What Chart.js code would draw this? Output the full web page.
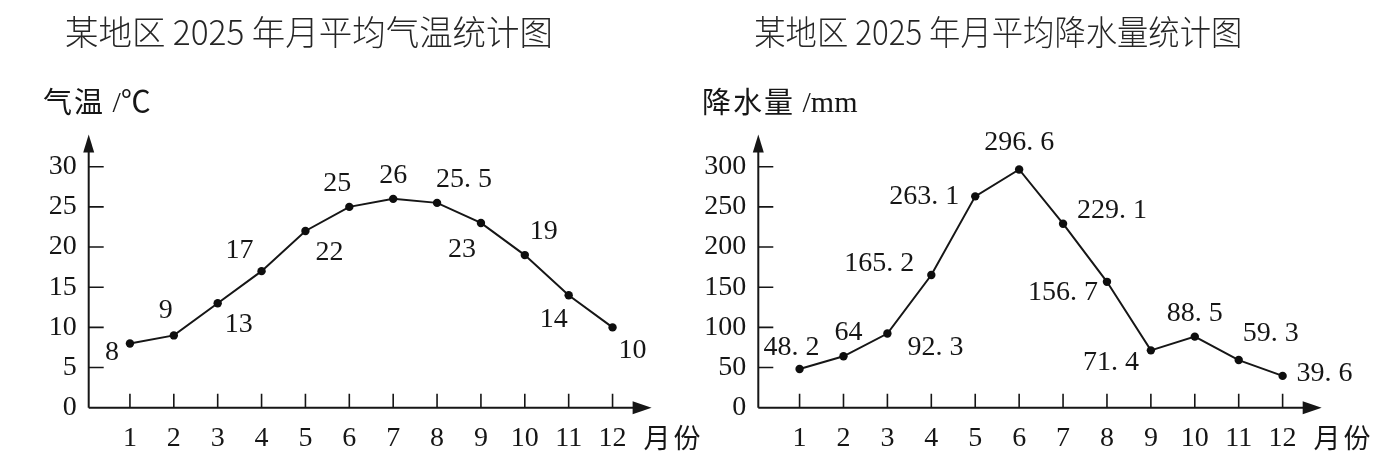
<!DOCTYPE html>
<html>
<head>
<meta charset="utf-8">
<script src="https://cdn.jsdelivr.net/npm/chart.js@4.4.1/dist/chart.umd.min.js"></script>
<style>
  html, body { margin: 0; padding: 0; background: #fff; }
  body { width: 1390px; height: 463px; position: relative; overflow: hidden; }
  canvas { position: absolute; top: 0; }
  #left { left: 0; }
  #right { left: 695px; }
</style>
</head>
<body>
<canvas id="left" width="720" height="463"></canvas>
<canvas id="right" width="695" height="463"></canvas>
<script>
// ---------------- data ----------------
const months = [1, 2, 3, 4, 5, 6, 7, 8, 9, 10, 11, 12];
const temperature = [8, 9, 13, 17, 22, 25, 26, 25.5, 23, 19, 14, 10];
const precipitation = [48.2, 64, 92.3, 165.2, 263.1, 296.6, 229.1, 156.7, 71.4, 88.5, 59.3, 39.6];
const temperatureTicks = [0, 5, 10, 15, 20, 25, 30];
const precipitationTicks = [0, 50, 100, 150, 200, 250, 300];

const tempTitle = '某地区 2025 年月平均气温统计图';
const rainTitle = '某地区 2025 年月平均降水量统计图';
const tempAxisName = ['气温', ' /℃'];
const rainAxisName = ['降水量', ' /mm'];
const monthAxisName = '月份';

// label placement relative to each point (style only)
const tempLabelOffsets = [[-18, 9], [-8, -25], [21, 21], [-22, -21], [24, 22], [-12, -23],
  [0, -23], [27, -23], [-19, 27], [19, -23], [-15, 24], [20, 23]];
const rainLabelOffsets = [[-8, -21], [5, -24], [48, 14], [-52, -11], [-51, 0], [0, -27],
  [49, -13], [-44, 11], [-40, 12], [0, -23], [32, -26], [42, -2]];

// ---------------- styling ----------------
const INK = '#161616';
const NUM_FONT = '"Liberation Serif", "Noto Sans CJK SC", serif';
const CJK_FONT = '"Noto Sans CJK SC", "Liberation Serif", sans-serif';

function fmt(v) { return String(v).replace('.', '. '); }

const axesPlugin = {
  id: 'axesDecor',
  afterDraw(chart, args, o) {
    const ctx = chart.ctx;
    const area = chart.chartArea;
    const xs = chart.scales.x, ys = chart.scales.y;
    const x0 = area.left, y0 = area.bottom;
    ctx.save();
    ctx.strokeStyle = INK;
    ctx.fillStyle = INK;
    ctx.lineWidth = 2;
    // axes
    ctx.beginPath();
    ctx.moveTo(x0, y0); ctx.lineTo(area.right - 10, y0);
    ctx.moveTo(x0, y0); ctx.lineTo(x0, area.top + 10);
    ctx.stroke();
    // arrows
    ctx.beginPath();
    ctx.moveTo(area.right, y0); ctx.lineTo(area.right - 19, y0 - 6.5); ctx.lineTo(area.right - 19, y0 + 6.5);
    ctx.closePath(); ctx.fill();
    ctx.beginPath();
    ctx.moveTo(x0, area.top); ctx.lineTo(x0 - 5.5, area.top + 18); ctx.lineTo(x0 + 5.5, area.top + 18);
    ctx.closePath(); ctx.fill();
    // tick marks (inward)
    ctx.lineWidth = 1.6;
    ctx.beginPath();
    o.yTicks.forEach(v => {
      if (v === 0) return;
      const py = ys.getPixelForValue(v);
      ctx.moveTo(x0, py); ctx.lineTo(x0 + 15, py);
    });
    months.forEach(m => {
      const px = xs.getPixelForValue(m);
      ctx.moveTo(px, y0); ctx.lineTo(px, y0 - 14);
    });
    ctx.stroke();
    // data labels
    const meta = chart.getDatasetMeta(0);
    ctx.font = '28px ' + NUM_FONT;
    ctx.textAlign = 'center';
    ctx.textBaseline = 'middle';
    o.values.forEach((v, i) => {
      const el = meta.data[i];
      const off = o.offsets[i];
      ctx.fillText(fmt(v), el.x + off[0], el.y + off[1]);
    });
    // month axis name
    ctx.textAlign = 'left';
    ctx.font = '27px ' + CJK_FONT;
    ctx.letterSpacing = '3px';
    ctx.fillText(monthAxisName, xs.getPixelForValue(12) + 31, 438);
    // y axis name
    ctx.letterSpacing = '2px';
    ctx.font = '29px ' + CJK_FONT;
    ctx.fillText(o.axisName[0], o.axisNameX, 102);
    const w = ctx.measureText(o.axisName[0]).width;
    ctx.letterSpacing = '0px';
    ctx.font = '30px ' + NUM_FONT;
    ctx.fillText(o.axisName[1], o.axisNameX + w, 104);
    // title
    ctx.textAlign = 'center';
    ctx.font = '300 34px ' + CJK_FONT;
    ctx.fillStyle = '#262626';
    ctx.fillText(o.title, o.titleX, 32, 488);
    ctx.restore();
  }
};

function makeChart(canvasId, cfg) {
  const tickFont = { family: NUM_FONT, size: 28 };
  return new Chart(document.getElementById(canvasId), {
    type: 'line',
    data: {
      datasets: [{
        data: months.map((m, i) => ({ x: m, y: cfg.values[i] })),
        borderColor: INK,
        borderWidth: 2,
        pointRadius: 4.2,
        pointBackgroundColor: '#0e0e0e',
        pointBorderWidth: 0,
        tension: 0,
        clip: false
      }]
    },
    options: {
      responsive: false,
      animation: false,
      events: [],
      layout: { padding: { top: 134.6, right: cfg.rightPad, left: 0, bottom: 0 } },
      plugins: {
        legend: { display: false },
        tooltip: { enabled: false },
        axesDecor: {
          values: cfg.values, offsets: cfg.offsets, yTicks: cfg.yTicks,
          axisName: cfg.axisName, axisNameX: cfg.axisNameX,
          title: cfg.title, titleX: cfg.titleX
        }
      },
      scales: {
        x: {
          type: 'linear', min: 0.06, max: 12.89,
          afterBuildTicks: s => { s.ticks = months.map(v => ({ value: v })); },
          afterFit: s => { s.height = 55.3; },
          grid: { display: false, drawTicks: false },
          border: { display: false },
          ticks: { font: tickFont, color: INK, padding: 14, autoSkip: false, maxRotation: 0 }
        },
        y: {
          type: 'linear', min: 0, max: cfg.yMax,
          afterBuildTicks: s => { s.ticks = cfg.yTicks.map(v => ({ value: v })); },
          afterFit: s => { s.width = cfg.axisX; },
          grid: { display: false, drawTicks: false },
          border: { display: false },
          ticks: { font: tickFont, color: INK, padding: 12 }
        }
      }
    },
    plugins: [axesPlugin]
  });
}

makeChart('left', {
  values: temperature, offsets: tempLabelOffsets, yTicks: temperatureTicks, yMax: 34,
  axisX: 88.7, rightPad: 720 - 651.6,
  axisName: tempAxisName, axisNameX: 43, title: tempTitle, titleX: 309
});
makeChart('right', {
  values: precipitation, offsets: rainLabelOffsets, yTicks: precipitationTicks, yMax: 340,
  axisX: 63.3, rightPad: 695 - 626.7,
  axisName: rainAxisName, axisNameX: 7, title: rainTitle, titleX: 303.3
});
</script>
</body>
</html>
